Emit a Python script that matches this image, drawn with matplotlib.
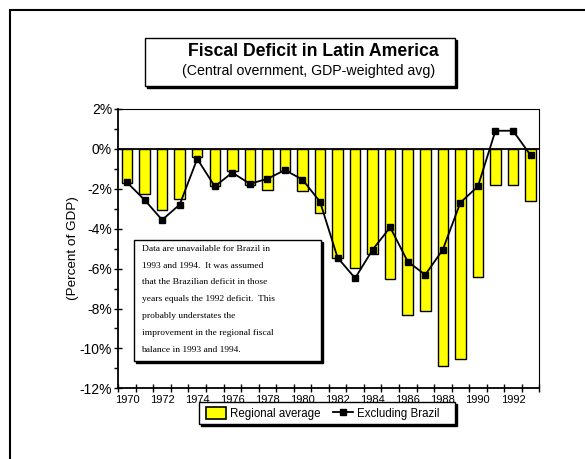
import matplotlib
matplotlib.use('Agg')
import matplotlib.pyplot as plt
import numpy as np
from matplotlib.patches import Rectangle, Patch
from matplotlib.lines import Line2D

years = list(range(1970, 1994))
regional = [-1.70, -2.27, -3.07, -2.50, -0.40, -1.86, -1.10, -1.82, -2.06, -1.12,
            -2.12, -3.20, -5.48, -5.95, -5.25, -6.53, -8.35, -8.13, -10.90, -10.55,
            -6.40, -1.82, -1.82, -2.62]
excl_brazil = [-1.68, -2.56, -3.56, -2.79, -0.50, -1.88, -1.19, -1.75, -1.50, -1.06,
               -1.54, -2.65, -5.45, -6.48, -5.05, -3.93, -5.65, -6.31, -5.05, -2.69,
               -1.88, 0.91, 0.91, -0.31]
ytick_vals = [2, 0, -2, -4, -6, -8, -10, -12]
ytick_labels = ['2%', '0%', '-2%', '-4%', '-6%', '-8%', '-10%', '-12%']
series_names = ['Regional average', 'Excluding Brazil']
title = 'Fiscal Deficit in Latin America'
subtitle = '(Central overnment, GDP-weighted avg)'
ylabel = '(Percent of GDP)'
note_lines = ['Data are unavailable for Brazil in',
              '1993 and 1994.  It was assumed',
              'that the Brazilian deficit in those',
              'years equals the 1992 deficit.  This',
              'probably understates the',
              'improvement in the regional fiscal',
              'balance in 1993 and 1994.']

W, H = 585, 459
plt.rcParams['font.family'] = 'Liberation Sans'

fig = plt.figure(figsize=(W / 100, H / 100), dpi=100)


def fx(px):
    return px / W


def fy(py):
    return 1 - py / H


def shadow_box(x0, y0, x1, y1, off=2, lw=1.0, z=3):
    # box given in pixels from top-left, with a black drop shadow
    fig.patches.append(Rectangle((fx(x0 + off), fy(y1 + off)), (x1 - x0) / W, (y1 - y0) / H,
                                 transform=fig.transFigure, facecolor='black',
                                 edgecolor='black', lw=lw, zorder=z))
    fig.patches.append(Rectangle((fx(x0), fy(y1)), (x1 - x0) / W, (y1 - y0) / H,
                                 transform=fig.transFigure, facecolor='white',
                                 edgecolor='black', lw=lw, zorder=z + 0.1))


# outer frame (runs off the right and bottom edges)
fig.patches.append(Rectangle((fx(10), -0.1), 1.2, fy(10) + 0.1, transform=fig.transFigure,
                             facecolor='none', edgecolor='black', lw=1.5, zorder=1))

ax = fig.add_axes([fx(118.3), fy(388.3), (539.3 - 118.3) / W, (388.3 - 109) / H])
idx = np.arange(len(years))

ax.bar(idx, regional, width=0.6, color='#ffff00', edgecolor='black', lw=1.0, zorder=2)
ax.axhline(0, color='black', lw=1.3, zorder=3)
ax.plot(idx, excl_brazil, color='black', lw=1.3, marker='s', markersize=4, zorder=4)

ax.set_xlim(-0.5, len(years) - 0.5)
ax.set_ylim(-12, 2)

ax.set_xticks(np.arange(len(years) + 1) - 0.5)
ax.set_xticklabels([])
ax.set_xticks(idx[::2], minor=True)
ax.set_xticklabels([str(y) for y in years[::2]], minor=True, fontsize=8)
ax.tick_params(axis='x', which='major', direction='inout', length=6, width=1)
ax.tick_params(axis='x', which='minor', length=0, pad=5)

ax.set_yticks(ytick_vals)
ax.set_yticklabels(ytick_labels, fontsize=10)
ax.set_yticks(np.arange(-11, 2, 2), minor=True)
ax.tick_params(axis='y', which='major', direction='inout', length=6, width=1, pad=1.5)
ax.tick_params(axis='y', which='minor', direction='out', length=3, width=1)

for s in ['left', 'bottom']:
    ax.spines[s].set_linewidth(1.3)
for s in ['top', 'right']:
    ax.spines[s].set_linewidth(0.8)

fig.text(fx(72.8), fy(248.3), ylabel, rotation=90, ha='center', va='center', fontsize=9.7)

# title box
shadow_box(145, 38, 455, 86)
fig.text(fx(313.8), fy(51), title, ha='center', va='center', fontsize=12.7, weight='bold', zorder=5)
fig.text(fx(308.3), fy(71.5), subtitle, ha='center', va='center', fontsize=10.2, zorder=5)

# note box
shadow_box(134, 240, 321, 361)
for i, line in enumerate(note_lines):
    fig.text(fx(141.5), fy(249 + i * 16.75), line, ha='left', va='center', fontsize=6.8,
             family='Liberation Serif', zorder=5)

# legend box drawn by hand, legend itself frameless inside it
shadow_box(198.5, 401.7, 455, 424, z=6)
handles = [Patch(facecolor='#ffff00', edgecolor='black', lw=1.2),
           Line2D([], [], color='black', lw=1.3, marker='s', markersize=4)]
leg = fig.legend(handles, series_names, loc='center left', bbox_to_anchor=(fx(205.7), fy(413.5)),
                 ncol=2, fontsize=8.3, frameon=False, handlelength=1.75,
                 handleheight=1.2, borderpad=0, columnspacing=1.1, handletextpad=0.35,
                 borderaxespad=0)
leg.set_zorder(7)

fig.savefig('out.png', dpi=100)
